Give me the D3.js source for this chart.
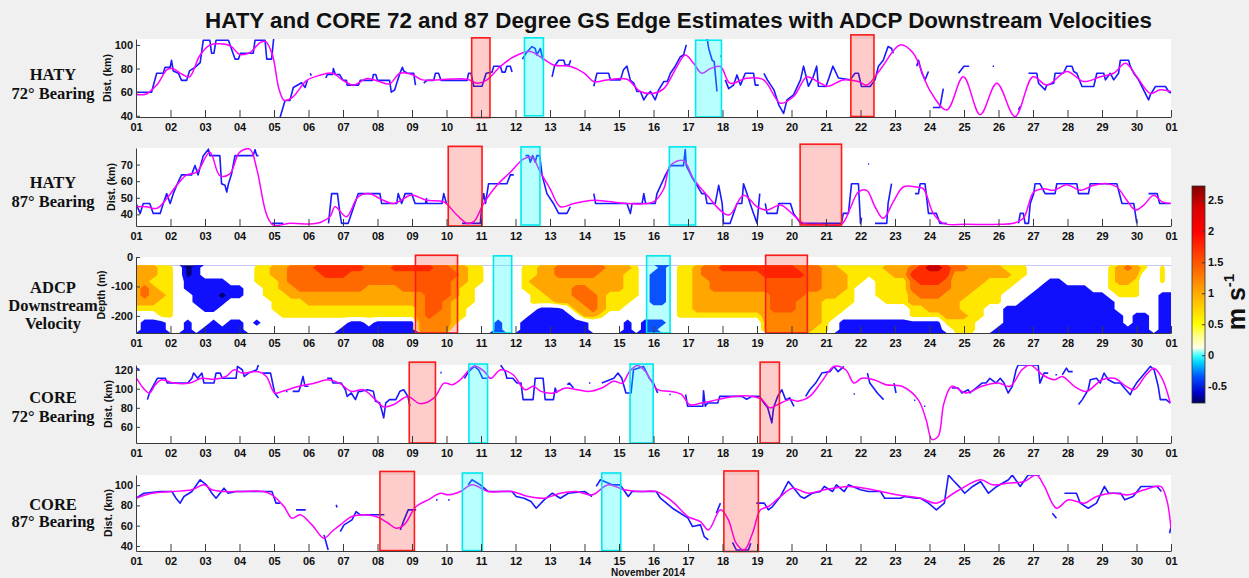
<!DOCTYPE html>
<html lang="en">
<head>
<meta charset="UTF-8">
<title>GS Edge Estimates</title>
<style>
  body { margin: 0; background: #f0f0f0; }
  svg { display: block; font-family: "Liberation Sans", Arial, sans-serif; }
  .rowlab { font-family: "Liberation Serif", "Times New Roman", serif; font-weight: bold; font-size: 16.5px; fill: #111; }
  .ylab { font-weight: bold; font-size: 10.5px; fill: #111; }
</style>
</head>
<body>
<svg id="chart" width="1249" height="578"></svg>
<script src="https://d3js.org/d3.v7.min.js"></script>
<script>
// ---------------- data ----------------
var dayTicks = d3.range(1, 32)
var dayLabels = ['01','02','03','04','05','06','07','08','09','10','11','12','13','14','15','16',
                 '17','18','19','20','21','22','23','24','25','26','27','28','29','30','01']

var haty72Ticks = [40, 60, 80, 100]
var haty87Ticks = [40, 50, 60, 70]
var adcpTicks = [0, -100, -200]
var core72Ticks = [60, 80, 100, 120]
var core87Ticks = [40, 60, 80, 100]
var cbarTicks = [-0.5, 0, 0.5, 1, 1.5, 2, 2.5]

// [day of November, km]; null = gap
var haty72Edge = [[1,60],[1.45,60],[1.6,76],[1.79,76],[1.84,81],[1.99,81],[2.03,87],[2.08,78],[2.23,76],[2.32,70],[2.47,70],[2.55,78],[2.71,81],[2.86,85],[2.95,104],[3.14,104],[3.19,93],[3.26,93],[3.32,104],[3.68,104],[3.87,88],[3.97,88],[4.03,93],[4.4,93],[4.45,104],[4.74,104],[4.79,88],[4.93,88],[5,108],null,
  [5.15,36],[5.32,53],[5.46,53],[5.56,64],[5.8,68],[5.9,64],[5.97,70],null,[6.05,76],[6.08,74],null,
  [6.5,72],[6.55,75],[6.7,75],[6.72,80],[6.78,75],[6.9,75],[7,70],[7.1,70],[7.12,66],[7.45,66],[7.5,70],[7.85,70],[7.88,75],[7.95,75],[8,70],[8.35,70],[8.4,60],[8.5,62],[8.55,67],[8.65,76],[8.72,81],[8.76,78],[8.86,76],[9.05,76],[9.1,66],null,
  [9.34,67.6],[9.43,70],[9.63,70],[9.68,76],[9.77,76],[9.84,70],[10.6,70],[10.64,76],[10.71,76],[10.79,65],[11.03,65],[11.15,76],[11.32,77],[11.37,82],[11.56,82],[11.61,77],[11.7,77],[11.75,82],[11.85,82],[11.9,77],null,
  [12.2,88],[12.33,94],[12.48,98.6],[12.57,97],[12.62,91.5],[12.72,97],[12.8,87],null,
  [13.06,73],[13.13,82],[13.25,87],[13.4,87],[13.44,83],[13.55,83],[13.6,87],null,
  [14.27,65],[14.36,76],[14.7,76],[14.75,70.4],[15.04,70.4],[15.13,79],[15.23,82],[15.33,70],[15.43,67.6],[15.52,60.6],[15.62,60.6],[15.72,53.5],[15.81,57.7],[15.91,60.6],[16.05,53.5],[16.15,62],[16.3,69],[16.4,69],[16.49,76],[16.63,82],[16.78,90],[16.87,91.5],[16.95,100],null,
  [17.55,106],[17.6,97],[17.7,87],[17.76,85.9],[17.84,60.6],null,[17.94,91],[17.97,90],null,
  [18.08,70.4],[18.18,63],[18.32,66],[18.42,74.6],[18.52,66],[18.66,76],[18.9,76],[18.95,66],[19.05,66],null,
  [19.2,76],[19.3,70.4],[19.49,62],[19.63,49.3],[19.77,42],[19.87,53.5],[20.06,57.7],[20.26,70.4],[20.35,82],[20.49,65],[20.63,73],[20.73,82],[20.78,65],[21,64.8],[21.2,82],[21.36,72],[21.7,70.4],[21.84,76],[21.94,76],[22.03,64.8],[22.28,64.8],[22.42,70.4],[22.52,82],[22.66,87],[22.8,98.6],[22.9,97],[22.95,93],null,
  [23.63,82],[23.68,87],[23.78,76],[23.87,70.4],[23.97,77.5],null,[24.1,47],[24.3,47],[24.4,63],null,
  [24.84,76],[25,82],[25.15,82],null,[25.83,82],[25.87,82],null,[26.58,45],[26.63,48],null,
  [26.87,76],[27.11,76],[27.16,67.6],[27.35,62],[27.4,66],[27.6,67.6],[27.64,76],[27.88,76],[27.98,82],[28.13,82],[28.18,77.5],[28.27,76],[28.42,64.8],[28.76,64.8],[28.85,76],[29.05,76],[29.1,70.4],[29.24,76],[29.34,70.4],[29.48,76],[29.53,87],[29.77,87],[29.82,82],[29.92,76],[30.06,70.4],[30.35,53.5],[30.4,57.7],[30.55,64.8],[30.84,64.8],[30.93,60.6],[31,59.3]]

var haty72Smooth = [[1,58],[1.3,58.5],[1.6,66],[1.9,79],[2.05,80],[2.35,75],[2.55,73],[2.85,91],[3.15,100],[3.45,101],[3.75,99],[4,92],[4.3,93.5],[4.6,102],[4.75,103],[4.95,92],[5.15,62],[5.3,53],[5.55,56],[5.95,70],[6.35,74.5],[6.7,76],[7,70],[7.3,66],[7.7,71.5],[8.05,69],[8.35,67],[8.65,76],[9,75],[9.3,70.4],[9.7,70.4],[10.6,71],[10.88,67.6],[11.17,70.4],[11.56,81.7],[11.95,90],[12.43,94.4],[12.72,90],[13.1,83],[13.6,81.7],[14,76],[14.27,69],[14.65,70.4],[15.23,71],[15.62,60.6],[16,59],[16.3,63],[16.68,81.7],[16.92,91.5],[17.16,84.5],[17.4,76],[17.65,80],[17.94,81.7],[18.22,67.6],[18.7,71.8],[19.19,70.4],[19.68,50.7],[20.06,56.3],[20.45,73],[20.75,69],[21.05,65],[21.5,70.4],[21.94,69],[22.18,66],[22.57,79],[23.15,100],[23.53,93],[24,62],[24.5,45],[24.98,73],[25.47,41],[25.95,67.6],[26.48,39.4],[27,73],[27.4,66],[27.98,77.5],[28.47,69],[28.95,73],[29.34,76],[29.68,84.5],[30.01,73],[30.4,59],[30.69,62],[31,60.6]]

var haty87Edge = [[1,46.6],[1.12,40.6],[1.21,46.6],[1.4,46.6],[1.5,40.6],[1.7,40.6],[1.79,46.6],[1.89,52.5],[1.99,46.6],[2.08,52.5],[2.18,57.5],[2.32,63.8],[2.61,63.8],[2.71,69.4],[2.8,63.8],[2.95,75.4],[3.1,79.3],[3.14,75.4],[3.43,75.4],[3.48,58.5],[3.58,57.5],[3.63,53.5],[3.68,58.5],[3.77,64.4],[3.87,75.4],[4.4,75.4],[4.45,79],[4.5,75.4],[4.55,75.4],null,
  [4.93,34.6],[5.27,34.6],null,
  [6.58,34.6],[6.67,52.5],[6.84,52.5],[6.91,40.6],[6.96,34.6],[7.15,34.6],[7.44,52.5],[8.07,52.5],[8.12,46.6],[8.56,46.6],[8.6,52.5],[8.7,46.6],[8.8,52.5],[8.99,52.5],[9.09,46.6],[9.39,46.6],[9.42,49.5],[9.43,46.6],[9.87,46.6],[9.92,52.5],[10,46.6],null,
  [10.45,34.6],[10.98,34.6],[11.03,46.6],[11.08,52.5],[11.13,46.6],[11.22,58.5],[11.75,58.5],[11.85,63.8],[11.95,63.8],null,
  [12.29,75.4],[12.38,75.4],[12.43,71.4],[12.5,75.4],[12.57,71.4],[12.62,75.4],[12.7,75.4],[12.77,63.8],[12.91,52.5],[13.1,46.6],[13.25,40.6],[13.49,40.6],[13.59,44.6],null,
  [14.27,52.5],[14.32,46.6],[15.23,46.6],[15.33,40.6],[15.38,46.6],[15.67,46.6],[15.72,52.5],[15.77,46.6],[16.05,46.6],[16.1,52.5],[16.35,63.8],[16.49,69.4],[16.87,69.4],[16.92,79],[16.95,69.4],[17.1,63],[17.26,57.5],[17.4,52.5],[17.5,52.5],[17.55,46.6],[17.79,46.6],[17.89,57.5],[17.99,46.6],[18.03,34.6],[18.22,34.6],[18.32,40.6],[18.42,46.6],[18.56,46.6],[18.61,58.5],[18.71,52.5],[18.8,46.6],[18.9,40.6],[19,34.6],[19.08,52.5],null,
  [19.24,46.6],[19.29,40.6],[19.58,40.6],[19.63,46.6],[19.97,46.6],[20.06,40.6],[20.26,34.6],[21.45,34.6],[21.5,40.6],[21.65,40.6],[21.74,58.5],[21.94,58.5],[22,34.6],[22.03,38],null,
  [22.22,70.4],[22.25,70.4],null,
  [22.42,34.6],[22.76,34.6],[22.8,46.6],[22.9,58.5],null,
  [23.58,52.5],[23.68,52.5],[23.73,58.5],[23.87,58.5],[23.97,40.6],[24.2,40.6],[24.3,34.6],[24.5,34.6],null,
  [26.58,34.6],[26.63,40.6],[26.72,40.6],[26.77,34.6],[26.87,34.6],[26.92,46.6],[27.02,52.5],[27.06,58.5],[27.2,58.5],[27.35,52.5],[27.64,52.5],[27.69,58.5],[28.27,58.5],[28.32,52.5],[28.61,52.5],[28.66,58.5],[29.43,58.5],[29.58,46.6],[29.92,46.6],[30.01,34.6],null,
  [30.35,52.5],[30.6,52.5],[30.67,46.6],[30.97,46.6]]

var haty87Smooth = [[1,44.6],[1.3,44.6],[1.6,43.6],[1.89,49.5],[2.18,57.5],[2.47,63.8],[2.76,65.4],[3.14,77.4],[3.43,63.4],[3.72,64.4],[4,77.4],[4.3,79.3],[4.5,67.4],[4.79,39.6],[4.98,33.5],[5.46,34.6],[6.24,34.6],[6.62,38.6],[6.77,44.6],[7.1,38.6],[7.44,50.5],[7.78,52.5],[8.07,49.5],[8.46,46.6],[8.94,51.5],[9.05,51.5],[9.43,48.5],[9.92,47.5],[10.3,39.6],[10.6,34.6],[10.79,35.6],[11.08,46.6],[11.46,57.5],[11.85,65.4],[12.24,73.4],[12.48,74.4],[12.72,65.4],[13,55.5],[13.3,44.6],[13.69,46.6],[14.27,48.5],[15.23,46.6],[16,47.5],[16.3,55.5],[16.49,69.4],[16.87,72.4],[17.16,61.5],[17.55,51.5],[18.18,39.6],[18.61,51.5],[19,44.6],[19.29,42.6],[19.68,45.6],[20.06,39.6],[20.35,34.6],[20.83,34],[21.45,34],[21.7,43.6],[21.94,53.5],[22.18,54.5],[22.42,44.6],[22.66,37.6],[22.95,47.5],[23.24,56.5],[23.63,56.5],[23.82,55.5],[24.11,40.6],[24.4,34.6],[25.08,34],[26.05,34],[26.43,34.6],[26.72,37.6],[27.02,53.5],[27.3,55.5],[27.6,54.5],[27.98,57.9],[28.37,54.5],[28.76,57.5],[29.14,58.5],[29.43,56.5],[29.72,48.5],[29.97,42.6],[30.21,45.6],[30.5,51.5],[30.74,47.5],[31,46.6]]

var core72Edge = [[1.02,121.7],[1.09,120],null,
  [1.33,88.6],[1.39,95.6],[1.44,99],[1.62,111],[1.85,111],[1.91,106],[2.5,106],[2.62,111],[2.67,116.5],[2.79,111],[2.91,116.5],[2.97,106],[3.26,106],[3.32,116.5],[3.44,116.5],[3.5,111],[3.9,111],[3.94,123.5],[4.08,120],[4.14,113],[4.26,116.5],[4.5,120],[4.55,125.5],null,
  [4.66,116.5],[4.9,116.5],[5.02,95.6],[5.13,90.4],null,[5.35,97.3],[5.39,97.3],null,
  [5.54,97.3],[5.72,97.3],[5.78,104.3],[5.84,113],[5.9,102.6],[6,102.6],null,
  [6.54,111],[6.66,111],[6.71,106],[6.95,106],[7.07,99],[7.12,92],[7.24,95.6],[7.36,88.6],[7.45,97.3],[7.53,97.3],[7.71,99],[7.88,97.3],[7.94,87],[8.06,85.3],[8.12,78],[8.18,69.4],[8.24,85.3],[8.35,88.6],[8.53,88.6],[8.65,97.3],[8.76,99],[8.88,92],[8.94,81.6],null,
  [9.82,117],[9.86,117],null,
  [10.52,111],[10.64,118],[10.81,123.5],[10.93,120],[11.05,111],[11.17,111],null,
  [11.57,125],[11.7,118],[11.75,111],[11.92,111],[12.04,106],[12.16,106],[12.22,88.6],[12.51,88.6],[12.57,111],[12.8,111],[12.86,88.6],[13.1,88.6],[13.15,100.8],[13.2,95.6],null,
  [13.5,104.3],[13.56,106],[13.68,100.8],null,[14.13,106],[14.17,106],null,
  [14.5,106],[14.85,111],[14.97,116.5],[15.08,111],[15.2,95.6],[15.35,95.6],[15.42,120],[15.71,123.5],[15.88,111],[16,106],[16.12,95.6],null,
  [16.46,94],[16.5,94],null,
  [16.93,94],[16.99,81.6],[17.43,81.6],[17.45,98],[17.5,81.6],[17.57,85],[17.86,85],[17.92,92],[18.56,92],[18.7,89],[18.85,92],[19.08,92],[19.2,85],[19.31,80],[19.43,64.2],[19.48,80],[19.6,92],[19.72,99],[19.83,88.6],[19.95,90.4],[20.07,81.6],null,
  [20.41,92],[20.53,99],[20.7,106],[20.88,116.5],[21.11,118],[21.23,123.5],[21.35,118],[21.52,123.5],null,
  [21.8,94.5],[21.84,94.5],null,[22.2,116.5],[22.27,106],[22.5,95],[22.67,88.6],null,
  [22.97,106],[23.03,95.6],null,[23.55,88],[23.59,88],null,[23.84,81.6],[23.88,81.6],null,
  [24.65,100.8],[24.83,100.8],[24.94,95.6],[25.12,99],[25.17,95.6],[25.29,99],[25.41,102.6],[25.52,106],[25.64,106],[25.75,111],[25.93,106],[26.05,111],[26.16,106],[26.28,95.6],[26.4,102.6],[26.51,120],[26.57,125],[27.15,125],[27.2,106],[27.32,116.5],[27.44,116.5],null,
  [27.65,114.8],[27.7,114.8],null,[27.85,114.8],[27.97,121.7],[28.03,118],[28.15,118],null,
  [28.32,83.4],[28.43,88.6],[28.6,99],[28.66,109.5],[28.84,111],[28.95,106],[29.06,116.5],[29.18,109.5],[29.36,106],[29.53,106],[29.65,100.8],[29.82,93.8],[29.88,99],[30,106],[30.4,123.5],[30.51,120],[30.63,102.6],[30.69,88.6],[30.86,88.6],[30.98,85]]

var core72Smooth = [[1,112],[1.21,100.8],[1.39,95.6],[1.56,104.3],[1.74,109.5],[2.09,106],[2.56,106],[2.9,111],[3.26,110],[3.61,113],[3.85,120],[4.08,116.5],[4.55,118],[4.78,113],[5.02,95.6],[5.25,97.3],[5.72,102.6],[6.19,106],[6.54,109.5],[6.89,106],[7.24,97.3],[7.59,99],[7.94,88.6],[8.18,81],[8.47,83.4],[8.88,92],[9.23,84.4],[9.64,90.4],[9.93,106],[10.17,104.3],[10.4,109.5],[10.81,124],[11.1,118],[11.28,111],[11.57,120],[11.92,115],[12.28,99],[12.51,102.6],[12.74,97.3],[13.1,95.6],[13.45,100.8],[13.8,99],[14.15,97.3],[14.5,100.8],[14.85,107.8],[15.1,106],[15.3,118],[15.54,124.5],[15.77,118],[16.12,99],[16.46,97.3],[16.81,94],[17.05,83.4],[17.39,85],[17.86,88.6],[18.32,92],[18.9,92],[19.14,88.6],[19.37,80],[19.6,83.4],[19.95,88.6],[20.18,87],[20.53,92],[20.88,107.8],[21.23,123.5],[21.57,120],[21.81,106],[22.04,111],[22.39,109.5],[22.74,104.3],[23.2,102.6],[23.67,88.6],[23.9,67.7],[24.07,46.8],[24.25,50],[24.42,85],[24.65,102.6],[25.06,95.6],[25.52,102.6],[25.99,106],[26.34,102.6],[26.68,120],[26.92,125],[27.27,114.8],[27.61,109.5],[27.85,113],[28.2,102.6],[28.55,97.3],[29,109.5],[29.36,111],[29.7,102.6],[29.93,99],[30.28,114.8],[30.51,121.7],[30.74,111],[30.98,85]]

var core87Edge = [[1,87.1],[1.23,92],[1.7,93.7],[2.04,93.7],[2.16,87.1],[2.28,82.2],[2.39,88.8],[2.62,93.7],[2.86,105.3],[3.04,100.3],[3.2,92],[3.32,87.1],[3.55,97],[3.67,92],[3.9,93.7],[4.94,93.7],[5.06,82.2],[5.18,82.2],null,
  [5.64,75.6],[5.92,75.6],null,[6.45,50.9],[6.57,36],null,[6.8,80.5],[6.83,78],null,
  [6.92,54.2],[7.03,60.8],[7.26,65.7],[7.38,73.9],[7.5,70.7],[8.08,70.7],[8.2,70.7],null,
  [8.66,55.8],[8.77,65.7],[8.89,75.6],[9.12,75.6],null,[9.7,85.5],[9.74,85.5],null,[10.05,85.5],[10.09,85.5],null,
  [10.63,100.3],[10.74,105.3],[10.98,100.3],[11.21,93.7],[11.9,93.7],[12.02,88.8],[12.25,87.1],[12.45,83.8],[12.6,77.2],[12.83,85.5],[13.07,92],[13.3,87.1],[13.53,92],[14,93.7],[14.22,88.8],null,
  [14.34,98.7],[14.46,105.3],[14.8,100.3],[15.03,100.3],[15.27,88.8],[15.38,93.7],[16.08,93.7],[16.2,87.1],[16.55,77.2],[16.78,72.3],[17,67.4],[17.13,59.1],[17.36,60.8],[17.47,49.2],[17.59,46],null,
  [17.82,72.3],[17.94,82.2],null,[18.29,43.6],[18.4,36],[18.75,36],[18.82,42.6],null,
  [18.98,82.2],[19.21,82.2],[19.33,75.6],[19.45,78.9],[19.68,88.8],[19.91,103.6],[20.03,98.7],[20.26,88.8],[20.37,87.1],[20.6,92],[20.84,93.7],[20.95,98.7],[21.19,93.7],[21.3,100.3],[21.53,93.7],[21.65,100.3],[22,95.4],[22.23,93.7],[22.58,93.7],[22.7,87.1],[23.16,87.1],[23.27,88.8],[23.62,87.1],[23.74,87.1],[23.97,82.2],[24.2,75.6],[24.43,82.2],[24.55,110],[24.67,105.3],[24.9,97],[25.02,92],[25.25,98.7],[25.48,103.6],[25.71,92],[25.95,98.7],[26.29,105.3],[26.4,110],[26.63,98.7],[26.86,110],[27.2,110],null,
  [27.56,72.3],[27.68,67.4],null,
  [27.91,92],[28.26,92],[28.37,82.2],[28.6,77.2],[28.84,82.2],[29.07,98.7],[29.19,92],[29.54,92],[29.66,85.5],[29.9,88.8],[30.13,98.7],[30.6,98.7],[30.72,93.7],null,
  [30.96,52.5],[31,59.1]]

var core87Smooth = [[1,87.1],[1.46,92],[2.04,93.7],[2.62,95.4],[2.97,100.3],[3.2,95.4],[3.55,93.7],[4,93.7],[4.7,93.7],[4.94,90.4],[5.29,78.9],[5.52,67.4],[5.76,70.7],[6.1,60.8],[6.45,47.6],[6.68,54.2],[6.92,60.8],[7.26,69],[7.61,70.7],[7.96,69],[8.31,62.4],[8.54,57.5],[8.77,60.8],[9.12,78.9],[9.47,85.5],[9.82,92],[10.05,90.4],[10.4,93.7],[10.74,100.3],[11.21,93.7],[11.9,93.7],[12.37,88.8],[12.83,87.1],[13.3,92],[13.76,93.7],[14.22,90.4],[14.69,100.3],[15.15,95.4],[15.62,93.7],[16.08,93.7],[16.55,83.8],[17,69],[17.36,64],[17.59,55.8],[17.94,75.6],[18.17,65.7],[18.4,42.6],[18.63,36],[18.87,52.5],[19.1,75.6],[19.33,78.9],[19.68,88.8],[20.03,97],[20.49,92],[20.95,95.4],[21.65,98.7],[22.35,95.4],[23.04,90.4],[23.74,87.1],[24.2,82.2],[24.78,93.7],[25.48,105.3],[25.83,100.3],[26.29,102],[26.75,103.6],[27.1,110],[27.33,98.7],[27.68,77.2],[28.03,85.5],[28.49,82.2],[28.84,88.8],[29.31,92],[29.77,90.4],[30.23,95.4],[30.7,98.7],[30.88,85],[31,57]]

// highlighted periods: [startDay, endDay, low, high]
var haty72Red = [[10.73, 11.26, 38.5, 106], [21.72, 22.39, 39.4, 108.5]]
var haty72Cyan = [[12.26, 12.81, 40, 106], [17.22, 17.97, 39, 104]]
var haty87Red = [[10.05, 11.03, 33, 81], [20.25, 21.45, 33.6, 82.3]]
var haty87Cyan = [[12.16, 12.71, 33.6, 80.7], [16.46, 17.22, 33.6, 80.7]]
var adcpRed = [[9.1, 10.32, -258, 6], [19.25, 20.46, -258, 6]]
var adcpCyan = [[11.36, 11.89, -258, 4], [15.8, 16.48, -258, 4]]
var core72Red = [[8.92, 9.68, 43, 128], [19.09, 19.65, 43, 128]]
var core72Cyan = [[10.65, 11.19, 43, 126], [15.32, 15.99, 43, 126]]
var core87Red = [[8.07, 9.07, 35.4, 113.5], [18.04, 19.04, 34.5, 114]]
var core87Cyan = [[10.46, 11.04, 35.4, 112], [14.5, 15.05, 35.4, 112]]

// ADCP downstream velocity, one string per depth row (-25 m down to -258 m),
// one character per quarter day from 1 Nov to 1 Dec
var adcpCode = { 'N': -0.9, 'B': -0.55, '.': 0, 'y': 0.7, 'o': 1.1, 'O': 1.5, 'r': 1.9, 'R': 2.4 }
var adcpRows = [
  ['ooo','yy','.','N','B','......','yy','oo','OOO','rrrrrr','OOO','rrrrr','OO','oo','yy','....','yy','oo','OOOOOO','ooo','y','..','B','.','yy','o','OO','rrrrrrrrr','OOO','oo','yyyyy','ooo','O','r','RR','r','OO','oooo','yyy','.........','y','o','O','o','y','.','y','.'].join(''),
  ['ooo','yy','.','N','B','......','yy','oo','OOOO','rrr','OOOOOOOOOOOOO','o','yy','....','yy','oo','OOOOO','ooo','yy','.','BB','.','yy','o','OOOOOOO','rrrrr','OO','ooo','yyyyy','oo','rrrrr','ooooooo','yy','.........','y','ooo','..','y','.'].join(''),
  ['oo','yyy','.','BBBBB','...','yyy','o','OOOOOOOOOOOOOOOOOOO','oo','yy','....','y','ooooooooooo','yy','.','BB','.','yy','oo','OOOOOOOOOOOOO','ooo','yy','.','yyyy','O','rrr','O','oooo','yyyy','...','BB','.....','y','oo','y','..','y','.'].join(''),
  ['o','O','o','yy','.','BBBBBB','B','.','.','yy','oo','OOOOOOOO','oooo','OOOOOO','o','yy','.....','yy','oooo','OO','oooo','yy','.','BB','.','yy','oo','OOOOOOOOOOOOO','ooo','y','..','yyyy','OOOOO','ooo','yyyy','...','BBBBBB','..','yyyy','....'].join(''),
  ['o','O','oo','y','..','BBB','N','BB','..','yyy','ooooooooooooooo','o','OOO','o','yy','......','yy','ooo','OOO','o','yyyy','.','BB','.','yy','ooooooooo','OOOO','oooo','yy','..','yyyy','o','OOO','ooo','yyyy','...','BBBBBBBBB','.','yyy','..','BB'].join(''),
  ['ooo','yy','..','BBBB','.....','yyyy','oooooooooooooo','OO','o','yyy','......','yyy','ooo','OO','o','yyy','..','BB','.','yy','ooooooooo','OOO','ooo','yyyy','...','yyy','oooooo','yyyyy','..','BBBBBBBBBBB','.....','BB'].join(''),
  ['yyyyy','...','BB','......','yyyyyyyyyyyyyyyyy','o','OO','o','yy','........','BBB','.','oo','O','o','yy','......','yy','ooooooooo','OOO','ooo','yyy','.......','yy','oooo','yyy','..','BBBBBBBBBBBBB','.....','BB'].join(''),
  ['...','yy','............','yyyyyyyyyyyyyyyy','o','O','oo','yy','.......','BBBBB','.','oo','y','........','yyyyyyyyyy','ooooooo','yy','........','yyy','y','ooo','yy','..','BBBBBBBBBBBBBB','.','BB','.','BB'].join(''),
  ['.','BBB','..','B','..','B','.','BB','.','B','..........','BB','.','BBBBB','oooo','y','....','B','..','BBBBBBBB','....','B','.','BBB','...........','ooooooo','y','.','BBBBBBBBBBBB','yyyy','...','BBBBBBBBBBBBBB','.','BB','.','BB'].join(''),
  ['.','BBB','..','B','.','BBBBB','...........','BBBBBBBBB','oooo','.....','B','..','BBBBBBBB','....','B','.','BB','............','oooooo','yy','.','BBBBBBBBBBBB','.','yyy','..','BBBBBBBBBBBBBBBBBB','.','BB'].join('')
]
var adcpLevels = [-9, -0.75, -0.3, 0.5, 0.9, 1.3, 1.7, 2.15]
var adcpColors = ['#000070', '#1010ff', '#ffffff', '#ffe800', '#ffa600', '#ff6a00', '#ff2c00', '#c80000']

var cbarStops = [-0.77, -0.6, -0.35, -0.12, 0, 0.12, 0.3, 0.5, 1, 1.5, 2, 2.4, 2.73]
var cbarColors = ['#00005a', '#0000d0', '#0050ff', '#00d0ff', '#40ffff', '#ffffe8', '#ffff90', '#ffff00', '#ffaa00', '#ff5500', '#ff0000', '#d80000', '#800000']

// ---------------- drawing ----------------
var svg = d3.select('#chart')
var x = d3.scaleLinear().domain([1, 31]).range([136, 1171])
var fontSans = 'Liberation Sans, Arial, sans-serif'

var panels = [
  { id: 'p1', top: 39, bottom: 117, domain: [39, 105], ticks: haty72Ticks, ylab: 'Dist. (km)', ylabX: 111,
    rows: ['HATY', '72° Bearing'], rowY: [80, 98.5], edge: haty72Edge, smooth: haty72Smooth, red: haty72Red, cyan: haty72Cyan },
  { id: 'p2', top: 148, bottom: 226, domain: [33, 80], ticks: haty87Ticks, ylab: 'Dist. (km)', ylabX: 115,
    rows: ['HATY', '87° Bearing'], rowY: [188, 206.5], edge: haty87Edge, smooth: haty87Smooth, red: haty87Red, cyan: haty87Cyan },
  { id: 'p3', top: 257, bottom: 333, domain: [-258, 0], ticks: adcpTicks, ylab: 'Depth (m)', ylabX: 105,
    rows: ['ADCP', 'Downstream', 'Velocity'], rowY: [293, 311, 328.5], heat: true, red: adcpRed, cyan: adcpCyan },
  { id: 'p4', top: 365, bottom: 443, domain: [43, 125], ticks: core72Ticks, ylab: 'Dist. (km)', ylabX: 112,
    rows: ['CORE', '72° Bearing'], rowY: [403, 421.5], edge: core72Edge, smooth: core72Smooth, red: core72Red, cyan: core72Cyan },
  { id: 'p5', top: 475, bottom: 551, domain: [35, 110], ticks: core87Ticks, ylab: 'Dist. (km)', ylabX: 112,
    rows: ['CORE', '87° Bearing'], rowY: [510, 527], edge: core87Edge, smooth: core87Smooth, red: core87Red, cyan: core87Cyan }
]

function styleAxis(g) {
  g.attr('font-family', fontSans).attr('font-size', 11).attr('font-weight', 'bold')
  g.selectAll('path, line').attr('stroke', '#3a3a3a')
  g.selectAll('text').attr('fill', '#111')
}

panels.forEach(function (p) {
  var y = d3.scaleLinear().domain(p.domain).range([p.bottom, p.top])
  var g = svg.append('g')

  g.append('rect').attr('x', 136).attr('y', p.top).attr('width', 1035).attr('height', p.bottom - p.top).attr('fill', '#fff')
  svg.append('clipPath').attr('id', 'clip-' + p.id).append('rect')
    .attr('x', 136).attr('y', p.top).attr('width', 1035).attr('height', p.bottom - p.top)

  var plot = g.append('g').attr('clip-path', 'url(#clip-' + p.id + ')')

  function boxes(list, stroke, fill) {
    g.selectAll(null).data(list).enter().append('rect')
      .attr('x', function (d) { return x(d[0]) })
      .attr('width', function (d) { return x(d[1]) - x(d[0]) })
      .attr('y', function (d) { return y(d[3]) })
      .attr('height', function (d) { return y(d[2]) - y(d[3]) })
      .attr('fill', fill).attr('stroke', stroke).attr('stroke-width', 1.6)
  }

  if (p.heat) {
    var nCol = 121, nRow = adcpRows.length
    var grid = []
    adcpRows.forEach(function (row) {
      for (var i = 0; i < nCol; i++) {
        var v = adcpCode[row.charAt(i)]
        grid.push(v === undefined ? 0 : v)
      }
    })
    var contours = d3.contours().size([nCol, nRow]).thresholds(adcpLevels)(grid)
    var gx = d3.scaleLinear().domain([0, nCol]).range([x(0.875), x(31.125)])
    var gy = d3.scaleLinear().domain([0, nRow]).range([y(-25), y(-258)])
    var proj = d3.geoTransform({ point: function (px, py) { this.stream.point(gx(px), gy(py)) } })
    // trim the top boundary so overlapping fills do not leave an anti-aliased seam
    svg.append('clipPath').attr('id', 'clip-heat').append('rect')
      .attr('x', 136).attr('y', y(-25) + 1).attr('width', 1035).attr('height', p.bottom - y(-25) - 1)
    g.append('g').attr('clip-path', 'url(#clip-heat)')
      .selectAll(null).data(contours).enter().append('path')
      .attr('d', d3.geoPath(proj))
      .attr('fill', function (d, i) { return adcpColors[i] })
    boxes(p.red, '#ff1a1a', 'rgba(255,0,0,0.2)')
    boxes(p.cyan, '#00e8f0', 'rgba(0,255,255,0.28)')
  } else {
    boxes(p.red, '#ff1a1a', 'rgba(255,0,0,0.2)')
    boxes(p.cyan, '#00e8f0', 'rgba(0,255,255,0.28)')
    var edgeLine = d3.line().defined(function (d) { return d !== null })
      .x(function (d) { return x(d[0]) }).y(function (d) { return y(d[1]) })
    var smoothLine = d3.line().curve(d3.curveCatmullRom.alpha(0.5))
      .x(function (d) { return x(d[0]) }).y(function (d) { return y(d[1]) })
    plot.append('path').attr('d', edgeLine(p.edge)).attr('fill', 'none')
      .attr('stroke', '#1a1aff').attr('stroke-width', 1.6).attr('stroke-linejoin', 'round')
    plot.append('path').attr('d', smoothLine(p.smooth)).attr('fill', 'none')
      .attr('stroke', '#ff00ff').attr('stroke-width', 1.5)
  }

  var xa = g.append('g').attr('transform', 'translate(0,' + p.bottom + ')')
    .call(d3.axisBottom(x).tickValues(dayTicks).tickFormat(function (d, i) { return dayLabels[i] })
      .tickSizeInner(-7).tickSizeOuter(0).tickPadding(6))
  styleAxis(xa)

  var ya = g.append('g').attr('transform', 'translate(136,0)')
    .call(d3.axisLeft(y).tickValues(p.ticks).tickFormat(function (d) { return String(d) })
      .tickSizeInner(-4).tickSizeOuter(0).tickPadding(3))
  styleAxis(ya)

  g.append('text').attr('class', 'ylab')
    .attr('transform', 'translate(' + p.ylabX + ',' + ((p.top + p.bottom) / 2) + ') rotate(-90)')
    .attr('text-anchor', 'middle').text(p.ylab)

  g.selectAll(null).data(p.rows).enter().append('text').attr('class', 'rowlab')
    .attr('x', 53).attr('y', function (d, i) { return p.rowY[i] })
    .attr('text-anchor', 'middle').text(function (d) { return d })
})

// colour bar
var cScale = d3.scaleLinear().domain([-0.77, 2.73]).range([403, 186])
var grad = svg.append('defs').append('linearGradient').attr('id', 'cbar')
  .attr('x1', 0).attr('y1', 1).attr('x2', 0).attr('y2', 0)
grad.selectAll('stop').data(cbarStops).enter().append('stop')
  .attr('offset', function (d) { return (d - cbarStops[0]) / (cbarStops[cbarStops.length - 1] - cbarStops[0]) })
  .attr('stop-color', function (d, i) { return cbarColors[i] })
svg.append('rect').attr('x', 1192).attr('y', 186).attr('width', 13).attr('height', 217)
  .attr('fill', 'url(#cbar)').attr('stroke', '#333').attr('stroke-width', 0.8)
var ca = svg.append('g').attr('transform', 'translate(1205,0)')
  .call(d3.axisRight(cScale).tickValues(cbarTicks).tickFormat(function (d) { return String(d) })
    .tickSizeInner(-3).tickSizeOuter(0).tickPadding(3))
styleAxis(ca)
ca.select('.domain').remove()

var unit = svg.append('text').attr('transform', 'translate(1245,302) rotate(-90)')
  .attr('text-anchor', 'middle').attr('font-weight', 'bold').attr('font-size', 25).attr('fill', '#111')
unit.append('tspan').text('m s')
unit.append('tspan').attr('font-size', 15).attr('dy', -11).text('-1')

// title and x label
svg.append('text').attr('x', 678.5).attr('y', 28).attr('text-anchor', 'middle')
  .attr('font-weight', 'bold').attr('font-size', 22).attr('fill', '#111')
  .attr('textLength', 947).attr('lengthAdjust', 'spacingAndGlyphs')
  .text('HATY and CORE 72 and 87 Degree GS Edge Estimates with ADCP Downstream Velocities')

svg.append('text').attr('x', 648).attr('y', 576).attr('text-anchor', 'middle')
  .attr('font-weight', 'bold').attr('font-size', 10).attr('fill', '#111').text('November 2014')
</script>
</body>
</html>
